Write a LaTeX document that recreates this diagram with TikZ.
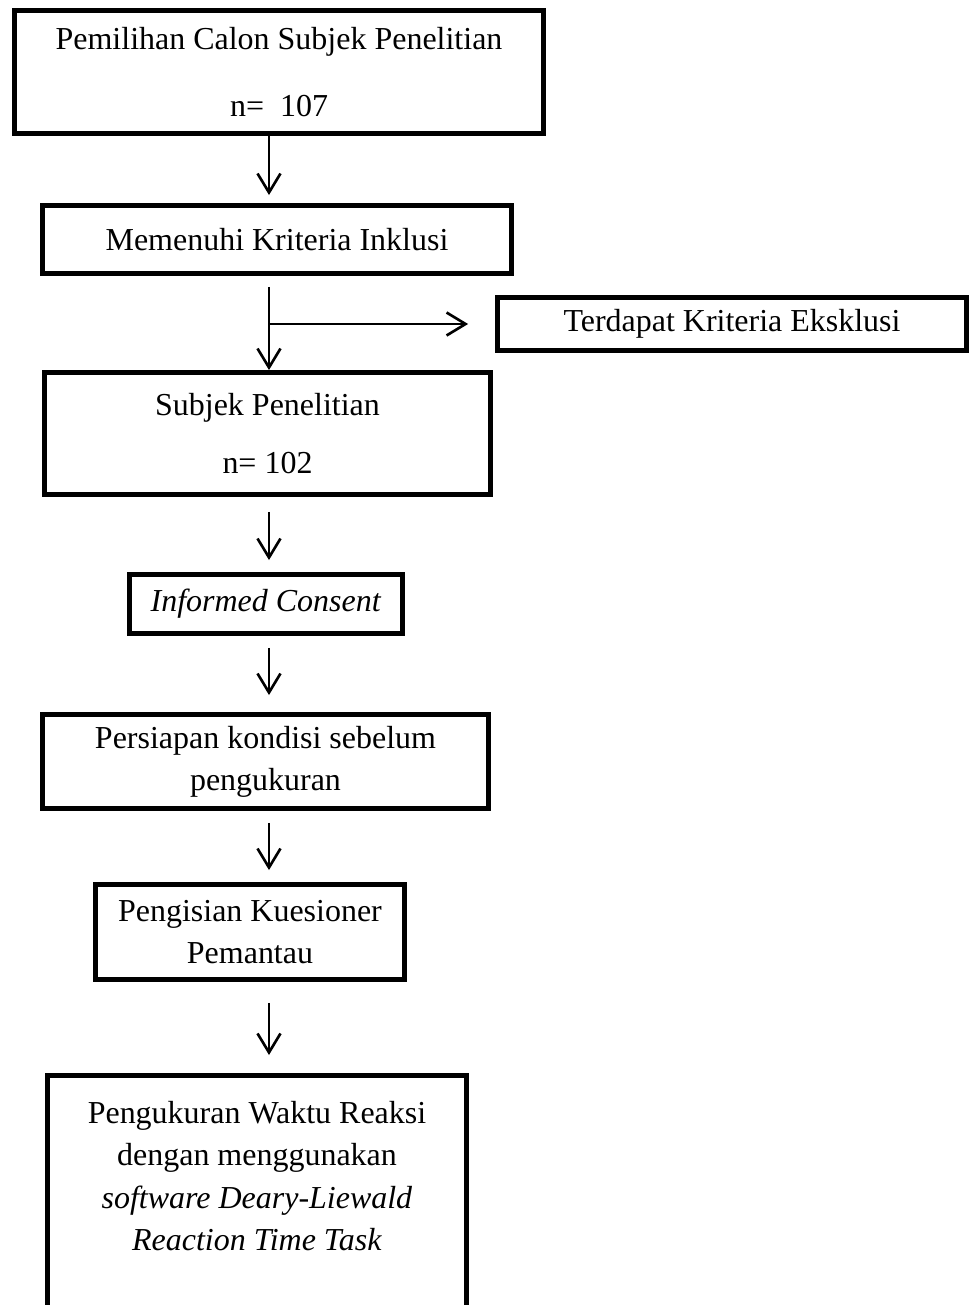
\documentclass[tikz,border=0pt]{standalone}
\usepackage{fontspec}
\setmainfont{Liberation Serif}
\usetikzlibrary{positioning,arrows.meta}

\begin{document}
\begin{tikzpicture}[
  x=0.02cm, y=-0.02cm,
  box/.style={draw, line width=2.8pt, align=center, inner sep=0pt, font=\fontsize{18.2}{24}\selectfont},
  txt/.style={align=center, inner sep=0pt, font=\fontsize{18.2}{24}\selectfont},
  arr/.style={line width=1.5pt, -{Straight Barb[length=3.8mm,width=4.6mm]}},
]
\useasboundingbox (0,0) rectangle (978,1305);

% ---- main column ----
\node[box, minimum width=10.58cm, minimum height=2.46cm] (pilih) at (279,72)
  {Pemilihan Calon Subjek Penelitian\\[14pt] n=\ \ 107};
\node[box, minimum width=9.38cm, minimum height=1.36cm] (inklusi) at (277,239.5)
  {Memenuhi Kriteria Inklusi};
\node[box, minimum width=8.92cm, minimum height=2.44cm] (subjek) at (267.5,433.5)
  {Subjek Penelitian\\[9.5pt] n= 102};
\node[box, minimum width=5.46cm, minimum height=1.18cm] (consent) at (266,604)
  {\textit{Informed Consent}};
\node[box, minimum width=8.92cm, minimum height=1.88cm] (persiapan) at (265.5,761.5)
  {Persiapan kondisi sebelum\\ pengukuran};
\node[box, minimum width=6.18cm, minimum height=1.90cm] (kuesioner) at (250,932)
  {Pengisian Kuesioner\\ Pemantau};
\node[box, minimum width=8.38cm, minimum height=5.8cm, anchor=north] (reaksi) at (257,1073) {};
\node[txt] (reaksitxt) at (257,1176)
  {Pengukuran Waktu Reaksi\\ dengan menggunakan\\ \textit{software Deary-Liewald}\\ \textit{Reaction Time Task}};

% ---- side branch ----
\node[box, minimum width=9.38cm, minimum height=1.06cm] (eksklusi) at (732,324)
  {Terdapat Kriteria Eksklusi};

% ---- arrows ----
\coordinate (axis) at (269,0);
\draw[arr, shorten >=0.16cm] (pilih.south -| axis) -- (inklusi.north -| axis);
\draw[arr, shorten <=0.22cm] (inklusi.south -| axis) -- (subjek.north -| axis);
\draw[arr, shorten >=0.54cm] (axis |- eksklusi.west) -- (eksklusi.west);
\draw[arr, shorten <=0.30cm, shorten >=0.24cm] (subjek.south -| axis) -- (consent.north -| axis);
\draw[arr, shorten <=0.24cm, shorten >=0.34cm] (consent.south -| axis) -- (persiapan.north -| axis);
\draw[arr, shorten <=0.24cm, shorten >=0.24cm] (persiapan.south -| axis) -- (kuesioner.north -| axis);
\draw[arr, shorten <=0.42cm, shorten >=0.36cm] (kuesioner.south -| axis) -- (reaksi.north -| axis);
\end{tikzpicture}
\end{document}
